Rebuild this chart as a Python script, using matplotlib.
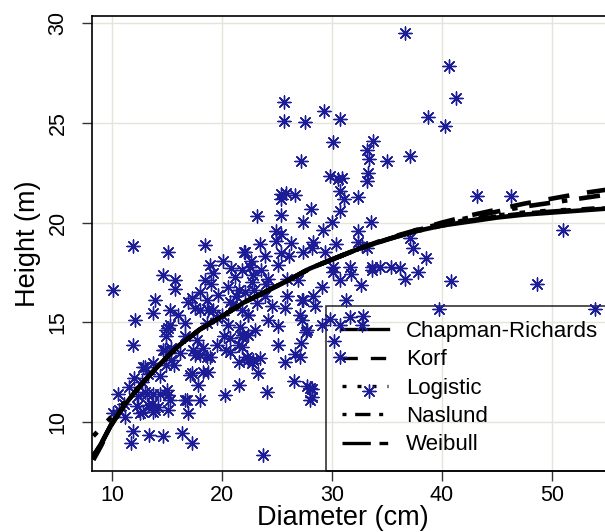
import matplotlib
matplotlib.use("Agg")
import matplotlib.pyplot as plt
from matplotlib.lines import Line2D

plt.rcParams['font.family'] = ['Liberation Sans', 'DejaVu Sans']

# ---------------- data ----------------
diameter = [
    36.6, 40.6, 41.3, 38.7, 40.3, 37.1, 43.2, 46.3, 51.0, 37.1, 37.4, 38.55, 36.2, 36.6, 37.8,
    40.8, 48.6, 39.7, 53.9, 35.4, 34.4, 33.6, 31.6, 30.1,
    25.6, 25.6, 27.5, 29.3, 30.7, 30.1, 33.75, 33.15, 33.4, 35.0, 27.2, 29.8, 30.9, 30.5, 33.3,
    33.2, 30.7, 31.1, 32.4, 25.4, 26.6, 28.1, 25.8, 25.4,
    23.15, 25.4, 11.95, 15.1, 18.45,
    30.7, 27.4, 29.2, 30.0, 32.4, 33.55, 28.3, 28.15, 29.4, 30.4, 32.4, 33.15, 32.7, 27.4,
    24.9, 25.4, 23.45, 24.95, 26.3, 22.1, 25.35, 26.1, 22.6, 25.1, 22.85, 24.2, 25.95, 26.9,
    30.1, 30.7, 31.7, 32.6, 33.6, 22.1, 23.9, 25.9, 27.4, 28.3, 29.05, 28.45, 25.7, 31.3, 22.4,
    24.2, 27.1, 25.1, 27.7, 29.1, 29.8, 31.6, 32.85, 32.7, 30.7,
    25.1, 27.2, 27.6, 22.4, 23.45, 25.7, 26.6, 27.1, 23.3, 26.5, 24.1, 27.7, 28.15, 28.0, 23.7,
    30.2, 30.7, 33.4,
    20.1, 22.0, 10.1, 14.65, 15.7, 15.7, 13.9, 13.75, 12.1, 18.9, 19.2, 18.45, 18.0, 18.6, 19.65,
    20.55, 21.2, 21.8, 22.55, 20.7, 15.3, 16.0, 17.55, 18.75, 16.65, 15.1, 14.95, 20.0, 20.55,
    21.8, 22.4, 21.5, 22.7,
    11.95, 10.55, 11.5, 10.1, 11.2, 11.9, 11.7, 13.4, 14.65, 16.4, 17.25, 16.95, 16.8, 18.0,
    17.1, 17.85, 18.75, 18.0, 18.6, 20.3, 21.5, 12.85, 13.15, 14.35, 15.1, 15.1, 13.6, 13.75,
    12.5, 12.25, 14.2, 14.95, 15.4, 15.6, 14.65, 14.95, 15.25, 16.65, 17.7, 18.6, 18.0, 19.2,
    19.5, 20.4, 20.7, 21.5, 21.8, 22.25, 22.85, 21.6, 21.9, 23.15, 27.25, 27.25, 28.0, 28.15,
    13.0, 13.7, 14.8, 15.4, 16.2, 17.4, 18.3, 18.9, 17.55, 12.85, 13.9, 16.65, 13.75, 17.25,
    18.3, 21.5, 21.8, 22.4, 20.75, 22.7, 13.0, 14.35, 15.0, 13.3, 15.3,
    21.0, 22.9, 23.5, 21.3, 19.5, 20.2, 23.0, 24.5, 24.0, 23.9, 20.8, 10.6, 11.1, 12.0, 12.7,
    13.3, 12.4, 19.0, 16.9, 17.3,
]
height = [
    29.5, 27.85, 26.25, 25.3, 24.85, 23.35, 21.35, 21.35, 19.65, 19.25, 18.7, 18.2, 17.7, 17.15, 17.5,
    17.05, 16.9, 15.65, 15.65, 17.75, 17.75, 17.75, 17.75, 17.75,
    26.05, 25.1, 25.05, 25.6, 25.2, 24.05, 24.1, 23.65, 23.2, 23.1, 23.1, 22.35, 22.25, 22.2, 22.5,
    22.1, 21.6, 21.2, 21.3, 21.45, 21.4, 20.7, 21.5, 21.2,
    20.35, 20.4, 18.8, 18.5, 18.85,
    20.6, 20.05, 19.65, 20.05, 19.6, 20.05, 19.05, 18.7, 18.5, 18.9, 19.05, 18.7, 18.8, 18.5,
    19.6, 19.45, 18.95, 19.1, 19.0, 18.5, 18.45, 18.3, 18.05, 17.85, 17.35, 17.15, 17.15, 17.1,
    17.5, 17.1, 17.4, 16.85, 17.6, 16.5, 16.3, 16.3, 16.1, 16.3, 16.75, 15.8, 15.7, 16.1, 15.35,
    15.1, 15.35, 14.8, 14.6, 14.85, 15.15, 15.25, 15.3, 14.85, 14.85,
    13.85, 13.95, 14.5, 13.1, 13.2, 13.0, 13.4, 13.25, 12.45, 12.05, 11.5, 11.8, 11.65, 11.1, 8.35,
    14.05, 13.25, 11.55,
    18.05, 18.5, 16.6, 17.35, 17.1, 16.65, 16.1, 15.45, 15.1, 17.85, 17.45, 17.1, 16.5, 16.1, 16.35,
    16.75, 17.25, 17.6, 17.75, 16.0, 15.6, 15.35, 15.7, 15.6, 14.95, 14.7, 14.3, 15.35, 14.85,
    15.6, 15.35, 16.6, 17.0,
    13.85, 11.4, 11.75, 10.45, 10.25, 9.55, 8.95, 9.35, 9.3, 9.45, 8.95, 10.45, 11.1, 11.1,
    12.35, 11.85, 12.5, 13.35, 13.25, 11.35, 11.85, 12.75, 11.4, 11.4, 11.35, 10.6, 10.9, 10.5,
    10.45, 10.8, 10.75, 12.85, 13.1, 12.85, 13.6, 14.6, 14.85, 14.3, 14.1, 14.95, 15.6, 15.6,
    13.85, 13.6, 14.2, 13.0, 13.75, 13.25, 13.1, 14.75, 14.35, 15.95, 15.1, 16.1, 11.7, 11.25,
    12.75, 12.95, 13.6, 13.7, 13.45, 13.6, 13.7, 13.25, 13.35, 10.5, 10.6, 11.1, 11.4, 12.45,
    12.5, 13.85, 14.25, 14.35, 13.5, 12.95, 11.5, 12.3, 11.6, 10.85, 11.1,
    15.9, 16.6, 17.6, 16.3, 15.2, 14.3, 14.6, 15.8, 16.9, 18.3, 17.7, 10.6, 10.9, 12.2, 12.0,
    12.4, 11.3, 16.9, 16.0, 16.2,
]

# fitted curves at these diameters
dbh_grid = [8.3, 9, 10, 11, 12, 13, 14, 15, 16, 18, 20, 22, 24, 26, 28, 30, 32.5, 35, 37.5,
            40, 42.5, 45, 47.5, 50, 52.5, 55, 57]
h_chapman = [8.3, 8.9, 9.95, 10.75, 11.45, 12.1, 12.7, 13.25, 13.8, 14.65, 15.3, 16.0, 16.55,
             17.1, 17.7, 18.15, 18.7, 19.15, 19.55, 19.85, 20.05, 20.25, 20.4, 20.5, 20.6, 20.7, 20.75]
h_korf = [8.1, 8.8, 9.9, 10.75, 11.45, 12.1, 12.7, 13.25, 13.8, 14.65, 15.3, 16.0, 16.55,
          17.1, 17.7, 18.15, 18.7, 19.2, 19.6, 20.0, 20.35, 20.65, 20.95, 21.2, 21.45, 21.65, 21.8]
h_logistic = [9.3, 9.7, 10.3, 10.9, 11.5, 12.1, 12.7, 13.25, 13.8, 14.65, 15.3, 16.0, 16.55,
              17.1, 17.7, 18.15, 18.7, 19.15, 19.6, 19.9, 20.15, 20.35, 20.5, 20.6, 20.65, 20.7, 20.72]
h_naslund = [8.3, 8.9, 9.95, 10.75, 11.45, 12.1, 12.7, 13.25, 13.8, 14.65, 15.3, 16.0, 16.55,
             17.1, 17.7, 18.15, 18.7, 19.15, 19.6, 19.95, 20.25, 20.55, 20.8, 21.0, 21.2, 21.4, 21.55]
h_weibull = [8.3, 8.9, 9.95, 10.75, 11.45, 12.1, 12.7, 13.25, 13.8, 14.65, 15.3, 16.0, 16.55,
             17.1, 17.7, 18.15, 18.7, 19.15, 19.55, 19.85, 20.1, 20.3, 20.45, 20.55, 20.65, 20.75, 20.8]

model_names = ["Chapman-Richards", "Korf", "Logistic", "Naslund", "Weibull"]
x_ticks = [10, 20, 30, 40, 50]
y_ticks = [10, 15, 20, 25, 30]

# ---------------- figure ----------------
fig = plt.figure(figsize=(6.05, 5.32), dpi=100)
ax = fig.add_axes([92/605, 1-471/532, 537/605, 455/532])
ax.set_xlim(8.18, 57.0)
ax.set_ylim(7.55, 30.35)

ax.grid(True, color='#e4e4da', lw=1.0, zorder=0)
ax.set_axisbelow(True)

ax.scatter(diameter, height, marker=(8, 2, 0), s=88, c='#1c1c96', linewidths=1.0, zorder=3)

styles = [
    dict(ls='-'),
    dict(ls=(0, (4.6, 3.9))),
    dict(ls=(0, (1.2, 3.3))),
    dict(ls=(0, (1.2, 2.6, 4.6, 2.6))),
    dict(ls=(0, (8.5, 2.6, 2.6, 2.6))),
]
curves = [h_chapman, h_korf, h_logistic, h_naslund, h_weibull]
handles = []
for name, hv, st in zip(model_names, curves, styles):
    ax.plot(dbh_grid, hv, color='black', lw=3.3, zorder=4, **st)
    handles.append(Line2D([], [], color='black', lw=2.4, **st))

leg = ax.legend(handles, model_names, loc='lower left', bbox_to_anchor=(234/537, 0.0),
                borderaxespad=0, fontsize=16, frameon=True, fancybox=False,
                handlelength=2.1, handletextpad=0.8, labelspacing=0.33, borderpad=0.7)
leg.get_frame().set_facecolor('none')
leg.get_frame().set_edgecolor('black')
leg.get_frame().set_linewidth(1.2)
leg.set_zorder(2)

for s in ['top', 'left', 'bottom', 'right']:
    ax.spines[s].set_linewidth(1.2)
    ax.spines[s].set_color('black')

ax.set_xticks(x_ticks)
ax.set_yticks(y_ticks)
ax.tick_params(axis='both', direction='out', length=7, width=1.0, labelsize=15.5, color='#333333')
ax.tick_params(axis='x', pad=3)
ax.tick_params(axis='y', pad=10)
for lab in ax.get_yticklabels():
    lab.set_rotation(90)
    lab.set_va('center')

ax.set_xlabel("Diameter (cm)", fontsize=19.5)
ax.set_ylabel("Height (m)", fontsize=19.5)
ax.xaxis.set_label_coords((343-92)/537, -0.075)
ax.yaxis.set_label_coords((41-92)/537, 0.5)

fig.savefig("out.png", dpi=100)
